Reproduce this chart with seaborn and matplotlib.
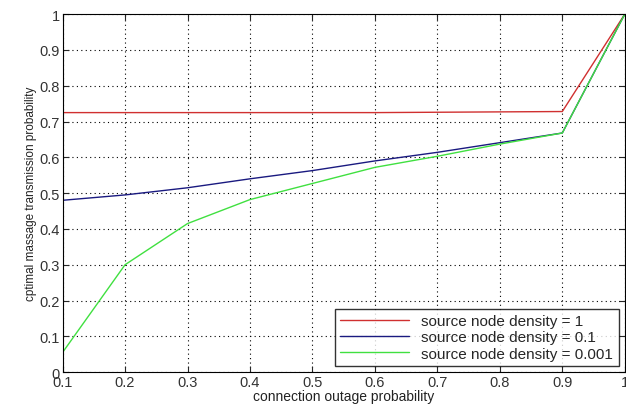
import numpy as np
import pandas as pd
import seaborn as sns
import matplotlib.pyplot as plt

# данные
outage = [0.1, 0.2, 0.3, 0.4, 0.5, 0.6, 0.7, 0.8, 0.9, 1.0]
dens_1 = [0.725, 0.725, 0.725, 0.725, 0.725, 0.725, 0.726, 0.727, 0.728, 1.0]
dens_01 = [0.48, 0.495, 0.515, 0.54, 0.563, 0.59, 0.614, 0.641, 0.668, 1.0]
dens_0001 = [0.055, 0.30, 0.415, 0.482, 0.527, 0.572, 0.603, 0.637, 0.668, 1.0]
labels = ['source node density = 1', 'source node density = 0.1', 'source node density = 0.001']

df = pd.DataFrame({
    'x': outage * 3,
    'y': dens_1 + dens_01 + dens_0001,
    'series': [labels[0]] * 10 + [labels[1]] * 10 + [labels[2]] * 10,
})

sns.set_style('white')
plt.rcParams['font.family'] = ['Liberation Sans', 'DejaVu Sans']

fig = plt.figure(figsize=(6.26, 4.10), dpi=100)
ax = fig.add_axes([0.1, 0.09, 0.898, 0.873])

palette = {labels[0]: '#d03030', labels[1]: '#1a1a80', labels[2]: '#40e040'}
sns.lineplot(data=df, x='x', y='y', hue='series', palette=palette, linewidth=1.0, ax=ax)

ax.set_xlim(0.1, 1.0)
ax.set_ylim(0, 1)
ax.set_xticks(np.arange(0.1, 1.01, 0.1))
ax.set_xticklabels(['0.1', '0.2', '0.3', '0.4', '0.5', '0.6', '0.7', '0.8', '0.9', '1'])
ax.set_yticks(np.arange(0, 1.01, 0.1))
ax.set_yticklabels(['0', '0.1', '0.2', '0.3', '0.4', '0.5', '0.6', '0.7', '0.8', '0.9', '1'])
ax.grid(True, color='black', linestyle=(0, (1, 3)), linewidth=0.8)
ax.tick_params(direction='in', length=4, top=True, right=True, labelsize=10.5, pad=2,
               bottom=True, left=True, labelcolor='#333333')
for s in ax.spines.values():
    s.set_color('black')
    s.set_linewidth(0.8)

ax.set_xlabel('connection outage probability', fontsize=10, labelpad=0, color='#222222')
ax.set_ylabel('cptimal massage transmission probability', fontsize=8.5, labelpad=2, color='#222222')

leg = ax.legend(loc='lower right', fontsize=11, frameon=True, fancybox=False,
                edgecolor='black', handlelength=4.5, borderaxespad=0.4,
                labelspacing=0.15, borderpad=0.35)
leg.get_frame().set_linewidth(1.0)

fig.savefig('out.png', dpi=100)
